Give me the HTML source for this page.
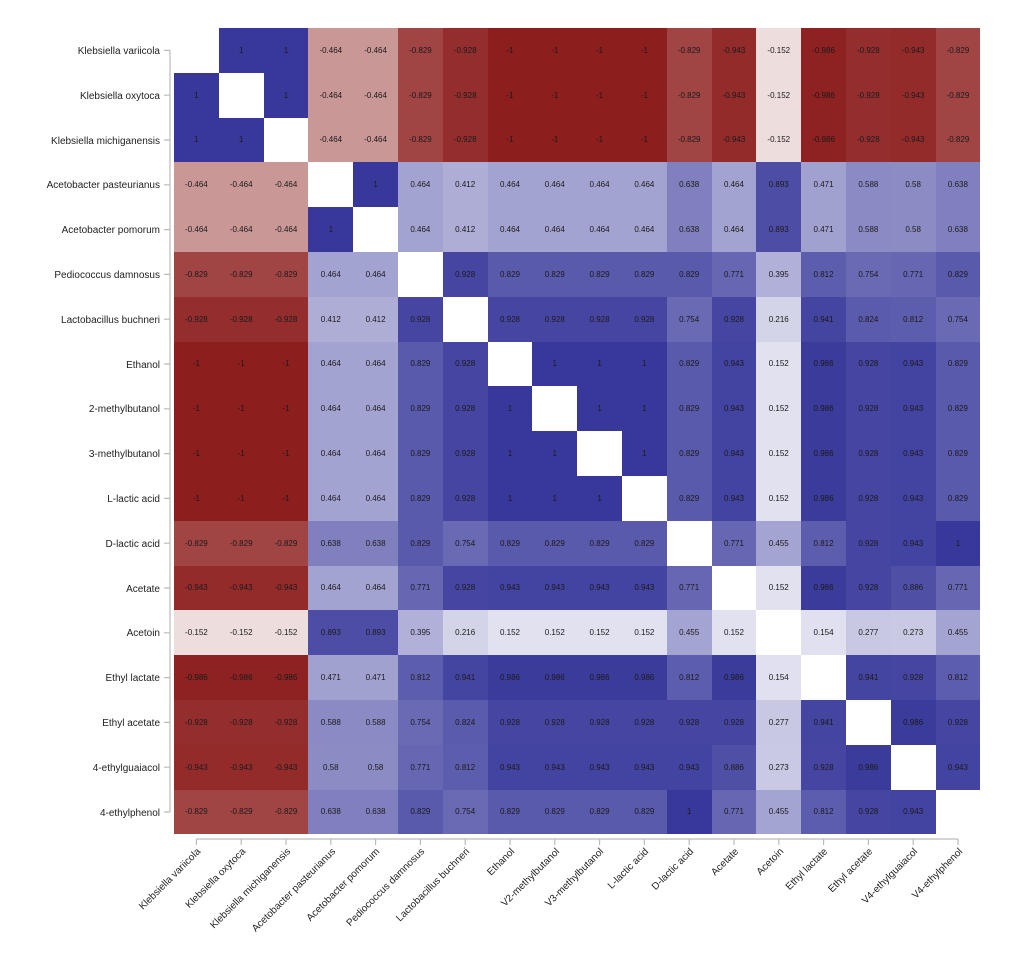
<!DOCTYPE html>
<html><head><meta charset="utf-8"><style>
body{margin:0;background:#fff;width:1016px;height:954px;position:relative;overflow:hidden;font-family:"Liberation Sans",sans-serif}
#g{position:absolute;left:174px;top:28px;display:grid;grid-template-columns:repeat(18,44.8px);grid-auto-rows:44.8px}
#g div{display:flex;align-items:center;justify-content:center;font-size:8px;color:#1a1a1a}
.w{background:#fff}
.p1{background:rgb(56,56,155)}.p986{background:rgb(59,59,156)}.p943{background:rgb(67,67,161)}.p941{background:rgb(68,68,161)}.p928{background:rgb(70,70,162)}
.p893{background:rgb(77,77,166)}.p886{background:rgb(79,79,166)}.p829{background:rgb(90,90,172)}.p824{background:rgb(91,91,173)}.p812{background:rgb(93,93,174)}
.p771{background:rgb(102,102,178)}.p754{background:rgb(105,105,180)}.p638{background:rgb(128,128,191)}.p588{background:rgb(138,138,196)}.p58{background:rgb(140,140,197)}
.p471{background:rgb(161,161,208)}.p464{background:rgb(163,163,209)}.p455{background:rgb(164,164,210)}.p412{background:rgb(173,173,214)}.p395{background:rgb(176,176,216)}
.p277{background:rgb(200,200,227)}.p273{background:rgb(201,201,228)}.p216{background:rgb(212,212,233)}.p154{background:rgb(224,224,240)}.p152{background:rgb(225,225,240)}
.n1{background:rgb(140,30,30)}.n986{background:rgb(142,33,33)}.n943{background:rgb(147,43,43)}.n928{background:rgb(148,46,46)}.n829{background:rgb(160,68,68)}
.n464{background:rgb(202,151,151)}.n152{background:rgb(238,221,221)}
svg{position:absolute;left:0;top:0}
svg text{font-family:"Liberation Sans",sans-serif;font-size:10px;fill:#222}
</style></head><body>
<div id="g">
<div class="w"></div><div class="p1">1</div><div class="p1">1</div><div class="n464">-0.464</div><div class="n464">-0.464</div><div class="n829">-0.829</div><div class="n928">-0.928</div><div class="n1">-1</div><div class="n1">-1</div><div class="n1">-1</div><div class="n1">-1</div><div class="n829">-0.829</div><div class="n943">-0.943</div><div class="n152">-0.152</div><div class="n986">-0.986</div><div class="n928">-0.928</div><div class="n943">-0.943</div><div class="n829">-0.829</div>
<div class="p1">1</div><div class="w"></div><div class="p1">1</div><div class="n464">-0.464</div><div class="n464">-0.464</div><div class="n829">-0.829</div><div class="n928">-0.928</div><div class="n1">-1</div><div class="n1">-1</div><div class="n1">-1</div><div class="n1">-1</div><div class="n829">-0.829</div><div class="n943">-0.943</div><div class="n152">-0.152</div><div class="n986">-0.986</div><div class="n928">-0.928</div><div class="n943">-0.943</div><div class="n829">-0.829</div>
<div class="p1">1</div><div class="p1">1</div><div class="w"></div><div class="n464">-0.464</div><div class="n464">-0.464</div><div class="n829">-0.829</div><div class="n928">-0.928</div><div class="n1">-1</div><div class="n1">-1</div><div class="n1">-1</div><div class="n1">-1</div><div class="n829">-0.829</div><div class="n943">-0.943</div><div class="n152">-0.152</div><div class="n986">-0.986</div><div class="n928">-0.928</div><div class="n943">-0.943</div><div class="n829">-0.829</div>
<div class="n464">-0.464</div><div class="n464">-0.464</div><div class="n464">-0.464</div><div class="w"></div><div class="p1">1</div><div class="p464">0.464</div><div class="p412">0.412</div><div class="p464">0.464</div><div class="p464">0.464</div><div class="p464">0.464</div><div class="p464">0.464</div><div class="p638">0.638</div><div class="p464">0.464</div><div class="p893">0.893</div><div class="p471">0.471</div><div class="p588">0.588</div><div class="p58">0.58</div><div class="p638">0.638</div>
<div class="n464">-0.464</div><div class="n464">-0.464</div><div class="n464">-0.464</div><div class="p1">1</div><div class="w"></div><div class="p464">0.464</div><div class="p412">0.412</div><div class="p464">0.464</div><div class="p464">0.464</div><div class="p464">0.464</div><div class="p464">0.464</div><div class="p638">0.638</div><div class="p464">0.464</div><div class="p893">0.893</div><div class="p471">0.471</div><div class="p588">0.588</div><div class="p58">0.58</div><div class="p638">0.638</div>
<div class="n829">-0.829</div><div class="n829">-0.829</div><div class="n829">-0.829</div><div class="p464">0.464</div><div class="p464">0.464</div><div class="w"></div><div class="p928">0.928</div><div class="p829">0.829</div><div class="p829">0.829</div><div class="p829">0.829</div><div class="p829">0.829</div><div class="p829">0.829</div><div class="p771">0.771</div><div class="p395">0.395</div><div class="p812">0.812</div><div class="p754">0.754</div><div class="p771">0.771</div><div class="p829">0.829</div>
<div class="n928">-0.928</div><div class="n928">-0.928</div><div class="n928">-0.928</div><div class="p412">0.412</div><div class="p412">0.412</div><div class="p928">0.928</div><div class="w"></div><div class="p928">0.928</div><div class="p928">0.928</div><div class="p928">0.928</div><div class="p928">0.928</div><div class="p754">0.754</div><div class="p928">0.928</div><div class="p216">0.216</div><div class="p941">0.941</div><div class="p824">0.824</div><div class="p812">0.812</div><div class="p754">0.754</div>
<div class="n1">-1</div><div class="n1">-1</div><div class="n1">-1</div><div class="p464">0.464</div><div class="p464">0.464</div><div class="p829">0.829</div><div class="p928">0.928</div><div class="w"></div><div class="p1">1</div><div class="p1">1</div><div class="p1">1</div><div class="p829">0.829</div><div class="p943">0.943</div><div class="p152">0.152</div><div class="p986">0.986</div><div class="p928">0.928</div><div class="p943">0.943</div><div class="p829">0.829</div>
<div class="n1">-1</div><div class="n1">-1</div><div class="n1">-1</div><div class="p464">0.464</div><div class="p464">0.464</div><div class="p829">0.829</div><div class="p928">0.928</div><div class="p1">1</div><div class="w"></div><div class="p1">1</div><div class="p1">1</div><div class="p829">0.829</div><div class="p943">0.943</div><div class="p152">0.152</div><div class="p986">0.986</div><div class="p928">0.928</div><div class="p943">0.943</div><div class="p829">0.829</div>
<div class="n1">-1</div><div class="n1">-1</div><div class="n1">-1</div><div class="p464">0.464</div><div class="p464">0.464</div><div class="p829">0.829</div><div class="p928">0.928</div><div class="p1">1</div><div class="p1">1</div><div class="w"></div><div class="p1">1</div><div class="p829">0.829</div><div class="p943">0.943</div><div class="p152">0.152</div><div class="p986">0.986</div><div class="p928">0.928</div><div class="p943">0.943</div><div class="p829">0.829</div>
<div class="n1">-1</div><div class="n1">-1</div><div class="n1">-1</div><div class="p464">0.464</div><div class="p464">0.464</div><div class="p829">0.829</div><div class="p928">0.928</div><div class="p1">1</div><div class="p1">1</div><div class="p1">1</div><div class="w"></div><div class="p829">0.829</div><div class="p943">0.943</div><div class="p152">0.152</div><div class="p986">0.986</div><div class="p928">0.928</div><div class="p943">0.943</div><div class="p829">0.829</div>
<div class="n829">-0.829</div><div class="n829">-0.829</div><div class="n829">-0.829</div><div class="p638">0.638</div><div class="p638">0.638</div><div class="p829">0.829</div><div class="p754">0.754</div><div class="p829">0.829</div><div class="p829">0.829</div><div class="p829">0.829</div><div class="p829">0.829</div><div class="w"></div><div class="p771">0.771</div><div class="p455">0.455</div><div class="p812">0.812</div><div class="p928">0.928</div><div class="p943">0.943</div><div class="p1">1</div>
<div class="n943">-0.943</div><div class="n943">-0.943</div><div class="n943">-0.943</div><div class="p464">0.464</div><div class="p464">0.464</div><div class="p771">0.771</div><div class="p928">0.928</div><div class="p943">0.943</div><div class="p943">0.943</div><div class="p943">0.943</div><div class="p943">0.943</div><div class="p771">0.771</div><div class="w"></div><div class="p152">0.152</div><div class="p986">0.986</div><div class="p928">0.928</div><div class="p886">0.886</div><div class="p771">0.771</div>
<div class="n152">-0.152</div><div class="n152">-0.152</div><div class="n152">-0.152</div><div class="p893">0.893</div><div class="p893">0.893</div><div class="p395">0.395</div><div class="p216">0.216</div><div class="p152">0.152</div><div class="p152">0.152</div><div class="p152">0.152</div><div class="p152">0.152</div><div class="p455">0.455</div><div class="p152">0.152</div><div class="w"></div><div class="p154">0.154</div><div class="p277">0.277</div><div class="p273">0.273</div><div class="p455">0.455</div>
<div class="n986">-0.986</div><div class="n986">-0.986</div><div class="n986">-0.986</div><div class="p471">0.471</div><div class="p471">0.471</div><div class="p812">0.812</div><div class="p941">0.941</div><div class="p986">0.986</div><div class="p986">0.986</div><div class="p986">0.986</div><div class="p986">0.986</div><div class="p812">0.812</div><div class="p986">0.986</div><div class="p154">0.154</div><div class="w"></div><div class="p941">0.941</div><div class="p928">0.928</div><div class="p812">0.812</div>
<div class="n928">-0.928</div><div class="n928">-0.928</div><div class="n928">-0.928</div><div class="p588">0.588</div><div class="p588">0.588</div><div class="p754">0.754</div><div class="p824">0.824</div><div class="p928">0.928</div><div class="p928">0.928</div><div class="p928">0.928</div><div class="p928">0.928</div><div class="p928">0.928</div><div class="p928">0.928</div><div class="p277">0.277</div><div class="p941">0.941</div><div class="w"></div><div class="p986">0.986</div><div class="p928">0.928</div>
<div class="n943">-0.943</div><div class="n943">-0.943</div><div class="n943">-0.943</div><div class="p58">0.58</div><div class="p58">0.58</div><div class="p771">0.771</div><div class="p812">0.812</div><div class="p943">0.943</div><div class="p943">0.943</div><div class="p943">0.943</div><div class="p943">0.943</div><div class="p943">0.943</div><div class="p886">0.886</div><div class="p273">0.273</div><div class="p928">0.928</div><div class="p986">0.986</div><div class="w"></div><div class="p943">0.943</div>
<div class="n829">-0.829</div><div class="n829">-0.829</div><div class="n829">-0.829</div><div class="p638">0.638</div><div class="p638">0.638</div><div class="p829">0.829</div><div class="p754">0.754</div><div class="p829">0.829</div><div class="p829">0.829</div><div class="p829">0.829</div><div class="p829">0.829</div><div class="p1">1</div><div class="p771">0.771</div><div class="p455">0.455</div><div class="p812">0.812</div><div class="p928">0.928</div><div class="p943">0.943</div><div class="w"></div>
</div>
<svg width="1016" height="954">
<g stroke="#bbb" stroke-width="1.2" fill="none">
<path d="M170 50.4V812M164 50.4H170M164 95.2H170M164 140H170M164 184.8H170M164 229.6H170M164 274.4H170M164 319.2H170M164 364H170M164 408.8H170M164 453.6H170M164 498.4H170M164 543.2H170M164 588H170M164 632.8H170M164 677.6H170M164 722.4H170M164 767.2H170M164 812H170"/>
<path d="M196.4 839H958M196.4 839v6M241.2 839v6M286 839v6M330.8 839v6M375.6 839v6M420.4 839v6M465.2 839v6M510 839v6M554.8 839v6M599.6 839v6M644.4 839v6M689.2 839v6M734 839v6M778.8 839v6M823.6 839v6M868.4 839v6M913.2 839v6M958 839v6"/>
</g>
<g text-anchor="end">
<text x="160" y="54">Klebsiella variicola</text>
<text x="160" y="99">Klebsiella oxytoca</text>
<text x="160" y="144">Klebsiella michiganensis</text>
<text x="160" y="188">Acetobacter pasteurianus</text>
<text x="160" y="233">Acetobacter pomorum</text>
<text x="160" y="278">Pediococcus damnosus</text>
<text x="160" y="323">Lactobacillus buchneri</text>
<text x="160" y="368">Ethanol</text>
<text x="160" y="412">2-methylbutanol</text>
<text x="160" y="457">3-methylbutanol</text>
<text x="160" y="502">L-lactic acid</text>
<text x="160" y="547">D-lactic acid</text>
<text x="160" y="592">Acetate</text>
<text x="160" y="636">Acetoin</text>
<text x="160" y="681">Ethyl lactate</text>
<text x="160" y="726">Ethyl acetate</text>
<text x="160" y="771">4-ethylguaiacol</text>
<text x="160" y="816">4-ethylphenol</text>
<text transform="translate(201,852) rotate(-45)">Klebsiella variicola</text>
<text transform="translate(246,852) rotate(-45)">Klebsiella oxytoca</text>
<text transform="translate(291,852) rotate(-45)">Klebsiella michiganensis</text>
<text transform="translate(336,852) rotate(-45)">Acetobacter pasteurianus</text>
<text transform="translate(380,852) rotate(-45)">Acetobacter pomorum</text>
<text transform="translate(425,852) rotate(-45)">Pediococcus damnosus</text>
<text transform="translate(470,852) rotate(-45)">Lactobacillus buchneri</text>
<text transform="translate(515,852) rotate(-45)">Ethanol</text>
<text transform="translate(560,852) rotate(-45)">V2-methylbutanol</text>
<text transform="translate(604,852) rotate(-45)">V3-methylbutanol</text>
<text transform="translate(649,852) rotate(-45)">L-lactic acid</text>
<text transform="translate(694,852) rotate(-45)">D-lactic acid</text>
<text transform="translate(739,852) rotate(-45)">Acetate</text>
<text transform="translate(784,852) rotate(-45)">Acetoin</text>
<text transform="translate(828,852) rotate(-45)">Ethyl lactate</text>
<text transform="translate(873,852) rotate(-45)">Ethyl acetate</text>
<text transform="translate(918,852) rotate(-45)">V4-ethylguaiacol</text>
<text transform="translate(963,852) rotate(-45)">V4-ethylphenol</text>
</g>
</svg>
</body></html>
